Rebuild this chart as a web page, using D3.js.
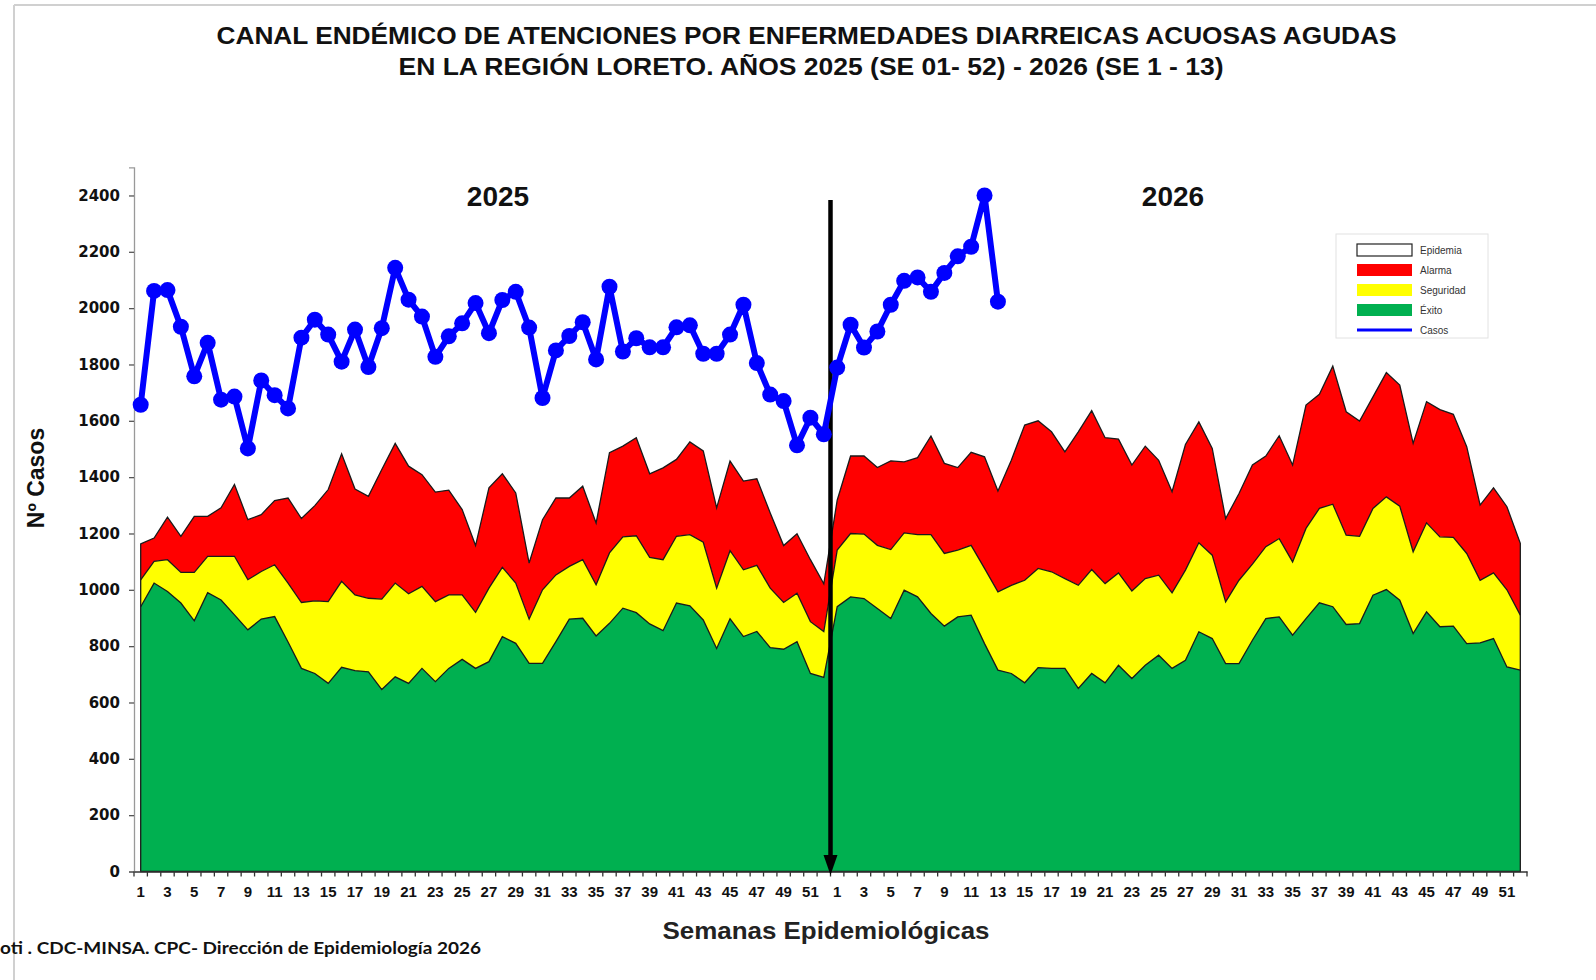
<!DOCTYPE html>
<html><head><meta charset="utf-8">
<script src="https://cdn.jsdelivr.net/npm/d3@7"></script>
<style>body{margin:0;background:#fff;} svg{display:block;}</style>
</head><body>
<script>
// ---- DATA ----
const semanas = [1,2,3,4,5,6,7,8,9,10,11,12,13,14,15,16,17,18,19,20,21,22,23,24,25,26,27,28,29,30,31,32,33,34,35,36,37,38,39,40,41,42,43,44,45,46,47,48,49,50,51,52];
const anios = [2025, 2026];
const yTicks = [0,200,400,600,800,1000,1200,1400,1600,1800,2000,2200,2400];

// Límites superiores de cada zona del canal endémico
const exito2025 = [940,1024,994,953,890,990,964,911,858,896,905,815,721,703,668,725,713,709,646,691,668,721,674,721,753,721,745,834,810,739,739,816,896,899,836,881,935,919,879,855,953,943,893,792,897,834,852,795,789,816,703,689];
const seguridad2025 = [1035,1101,1107,1062,1062,1119,1119,1119,1036,1065,1089,1024,955,961,958,1030,982,970,967,1024,986,1012,958,982,982,920,1006,1080,1024,896,1000,1053,1083,1107,1018,1131,1188,1192,1115,1107,1190,1196,1169,1006,1139,1071,1087,1006,955,988,887,852];
const alarma2025 = [1163,1184,1258,1190,1261,1261,1291,1374,1249,1267,1317,1326,1253,1299,1356,1483,1358,1332,1427,1520,1439,1409,1347,1354,1285,1157,1362,1412,1344,1095,1249,1326,1326,1368,1237,1487,1510,1540,1412,1433,1463,1525,1493,1291,1457,1386,1394,1273,1157,1199,1107,1021];
const exito2026 = [940,975,969,934,898,999,975,916,871,904,910,809,715,703,670,724,721,721,650,703,670,732,685,732,768,721,750,851,827,738,738,821,898,904,839,898,954,940,877,880,981,1001,963,845,922,869,871,809,812,827,726,715];
const seguridad2026 = [1141,1200,1198,1158,1143,1202,1196,1196,1129,1141,1158,1076,993,1016,1034,1076,1064,1040,1016,1072,1022,1060,996,1040,1052,989,1070,1167,1123,957,1034,1091,1153,1182,1099,1218,1289,1304,1194,1190,1289,1330,1297,1135,1238,1188,1186,1129,1034,1060,1000,910];
const alarma2026 = [1318,1475,1475,1434,1458,1454,1469,1546,1449,1434,1488,1472,1351,1460,1585,1600,1561,1490,1561,1636,1540,1535,1443,1510,1460,1348,1516,1596,1502,1253,1342,1443,1475,1547,1443,1656,1694,1794,1632,1599,1685,1771,1727,1520,1668,1640,1623,1508,1301,1362,1295,1165];

// Casos observados
const casos2025 = [1657,2061,2064,1934,1758,1877,1675,1686,1502,1743,1691,1644,1895,1959,1906,1810,1924,1791,1929,2143,2030,1970,1827,1900,1946,2018,1911,2029,2058,1931,1681,1850,1901,1950,1818,2076,1846,1893,1861,1861,1932,1939,1838,1838,1906,2012,1805,1693,1670,1513,1611,1552];
const casos2026 = [1789,1941,1860,1917,2012,2097,2109,2058,2125,2184,2218,2400,2023];

const legendItems = ["Epidemia","Alarma","Seguridad","Éxito","Casos"];
const legendColors = ["#ffffff","#ff0000","#ffff00","#00b050","#0000ff"];

// ---- BUILD ----
const keys = [];
anios.forEach(a => semanas.forEach(s => keys.push(a + "-" + s)));
const exito = exito2025.concat(exito2026);
const seguridad = seguridad2025.concat(seguridad2026);
const alarma = alarma2025.concat(alarma2026);
const rows = keys.map((k,i) => ({k, e: exito[i], s: seguridad[i], a: alarma[i]}));
const casosKeys = semanas.map(s => "2025-" + s).concat(semanas.slice(0, casos2026.length).map(s => "2026-" + s));
const casos = casos2025.concat(casos2026).map((v,i) => ({k: casosKeys[i], v}));

const W = 1596, H = 980;
const svg = d3.select("body").append("svg").attr("width", W).attr("height", H);

const x = d3.scaleBand().domain(keys).range([134, 1527]).padding(0);
const y = d3.scaleLinear().domain([0, 2500]).range([871.5, 167.3]);
const cx = k => x(k) + x.bandwidth() / 2;

// frame
svg.append("line").attr("x1", 14).attr("x2", W).attr("y1", 5).attr("y2", 5).attr("stroke", "#d0d0d0").attr("stroke-width", 2);
svg.append("line").attr("x1", 14).attr("x2", 14).attr("y1", 5).attr("y2", H).attr("stroke", "#d0d0d0").attr("stroke-width", 2);

// Title
const title = svg.append("g").attr("font-family", "'Liberation Sans', Arial, sans-serif").attr("font-weight", "bold").attr("fill", "#111").style("white-space", "pre");
title.append("text").attr("x", 806.5).attr("y", 43.5).attr("text-anchor", "middle").attr("font-size", 24)
  .attr("textLength", 1180).attr("lengthAdjust", "spacingAndGlyphs")
  .text("CANAL ENDÉMICO DE ATENCIONES POR ENFERMEDADES DIARREICAS ACUOSAS AGUDAS");
title.append("text").attr("x", 811).attr("y", 74.5).attr("text-anchor", "middle").attr("font-size", 24)
  .attr("textLength", 825).attr("lengthAdjust", "spacingAndGlyphs")
  .text("EN LA REGIÓN LORETO.  AÑOS 2025 (SE 01- 52) - 2026 (SE 1 - 13)");

// Areas
const areaG = d3.area().x(d => cx(d.k)).y0(y(0)).y1(d => y(d.e));
const areaY = d3.area().x(d => cx(d.k)).y0(d => y(d.e)).y1(d => y(d.s));
const areaR = d3.area().x(d => cx(d.k)).y0(d => y(d.s)).y1(d => y(d.a));
svg.append("path").datum(rows).attr("d", areaR).attr("fill", "#ff0000");
svg.append("path").datum(rows).attr("d", areaY).attr("fill", "#ffff00");
svg.append("path").datum(rows).attr("d", areaG).attr("fill", "#00b050");
const lineOf = f => d3.line().x(d => cx(d.k)).y(d => y(f(d)));
[d => d.e, d => d.s].forEach(f => {
  svg.append("path").datum(rows).attr("d", lineOf(f)).attr("fill", "none").attr("stroke", "#1a1a1a").attr("stroke-width", 1.3);
});
const areaT = d3.area().x(d => cx(d.k)).y0(y(0)).y1(d => y(d.a));
svg.append("path").datum(rows).attr("d", areaT).attr("fill", "none").attr("stroke", "#1a1a1a").attr("stroke-width", 1.3);

// Y axis
const yAxis = d3.axisLeft(y).tickValues(yTicks).tickSize(5).tickPadding(9).tickFormat(d3.format("d"));
const yg = svg.append("g").attr("transform", "translate(134,0)").call(yAxis);
yg.select(".domain").attr("stroke", "#999").attr("stroke-width", 1.3);
yg.selectAll(".tick line").attr("stroke", "#555").attr("stroke-width", 1.3);
yg.selectAll(".tick text").attr("font-family", "'DejaVu Sans', sans-serif").attr("font-weight", "bold").attr("font-size", 15).attr("fill", "#111");

// X axis
const oddKeys = keys.filter(k => +k.split("-")[1] % 2 === 1);
const xAxis = d3.axisBottom(x).tickValues(oddKeys).tickSize(0).tickPadding(15).tickFormat(k => k.split("-")[1]);
const xg = svg.append("g").attr("transform", "translate(0," + y(0) + ")").call(xAxis);
xg.select(".domain").attr("stroke", "#333").attr("stroke-width", 1.5);
xg.selectAll(".tick text").attr("font-family", "'Liberation Sans', Arial, sans-serif").attr("font-weight", "bold").attr("font-size", 15).attr("fill", "#111");
const bounds = keys.map(k => x(k)).concat([x.range()[1]]);
svg.append("g").selectAll("line").data(bounds).join("line")
  .attr("x1", d => d).attr("x2", d => d).attr("y1", y(0)).attr("y2", y(0) + 5)
  .attr("stroke", "#333").attr("stroke-width", 1.3);

// Axis titles
svg.append("text").attr("transform", "translate(44,478) rotate(-90)").attr("text-anchor", "middle")
  .attr("font-family", "'Liberation Sans', Arial, sans-serif").attr("font-weight", "bold").attr("font-size", 23).attr("fill", "#111")
  .text("Nº Casos");
svg.append("text").attr("x", 826).attr("y", 939).attr("text-anchor", "middle")
  .attr("font-family", "'Liberation Sans', Arial, sans-serif").attr("font-weight", "bold").attr("font-size", 24).attr("fill", "#222")
  .attr("textLength", 327).attr("lengthAdjust", "spacingAndGlyphs")
  .text("Semanas Epidemiológicas");

// Year labels
svg.append("text").attr("x", 498).attr("y", 206).attr("text-anchor", "middle").attr("font-family", "'Liberation Sans', Arial, sans-serif").attr("font-weight", "bold").attr("font-size", 28).attr("fill", "#111").text(anios[0]);
svg.append("text").attr("x", 1173).attr("y", 206).attr("text-anchor", "middle").attr("font-family", "'Liberation Sans', Arial, sans-serif").attr("font-weight", "bold").attr("font-size", 28).attr("fill", "#111").text(anios[1]);

// Separator arrow
const sepX = x("2026-1");
svg.append("line").attr("x1", sepX).attr("x2", sepX).attr("y1", 200).attr("y2", 862).attr("stroke", "#000").attr("stroke-width", 4.5);
svg.append("path").attr("d", `M${sepX-7},855 L${sepX+7},855 L${sepX},875 Z`).attr("fill", "#000");

// Casos line
svg.append("path").datum(casos).attr("d", d3.line().x(d => cx(d.k)).y(d => y(d.v)))
  .attr("fill", "none").attr("stroke", "#0000ff").attr("stroke-width", 6).attr("stroke-linejoin", "round");
svg.append("g").selectAll("circle").data(casos).join("circle")
  .attr("cx", d => cx(d.k)).attr("cy", d => y(d.v)).attr("r", 8).attr("fill", "#0000ff");

// Legend
const lg = svg.append("g");
lg.append("rect").attr("x", 1336).attr("y", 234).attr("width", 152).attr("height", 104).attr("fill", "#fff").attr("stroke", "#e2e2e2");
legendItems.forEach((name, i) => {
  const cy = 250 + i * 20;
  if (i < 4) {
    lg.append("rect").attr("x", 1357).attr("y", cy - 6).attr("width", 55).attr("height", 12)
      .attr("fill", legendColors[i]).attr("stroke", i === 0 ? "#222" : "none").attr("stroke-width", 1.2);
  } else {
    lg.append("line").attr("x1", 1357).attr("x2", 1412).attr("y1", cy).attr("y2", cy).attr("stroke", legendColors[i]).attr("stroke-width", 3);
  }
  lg.append("text").attr("x", 1420).attr("y", cy + 3.5).attr("font-family", "'Liberation Sans', Arial, sans-serif").attr("font-size", 10).attr("fill", "#333").text(name);
});

// Footer
svg.append("text").attr("x", 0).attr("y", 954).attr("font-family", "Lato, 'Open Sans', sans-serif").attr("font-weight", "bold").attr("font-size", 17).attr("fill", "#111")
  .attr("textLength", 481).attr("lengthAdjust", "spacingAndGlyphs")
  .text("oti . CDC-MINSA. CPC- Dirección de Epidemiología 2026");
</script>
</body></html>
